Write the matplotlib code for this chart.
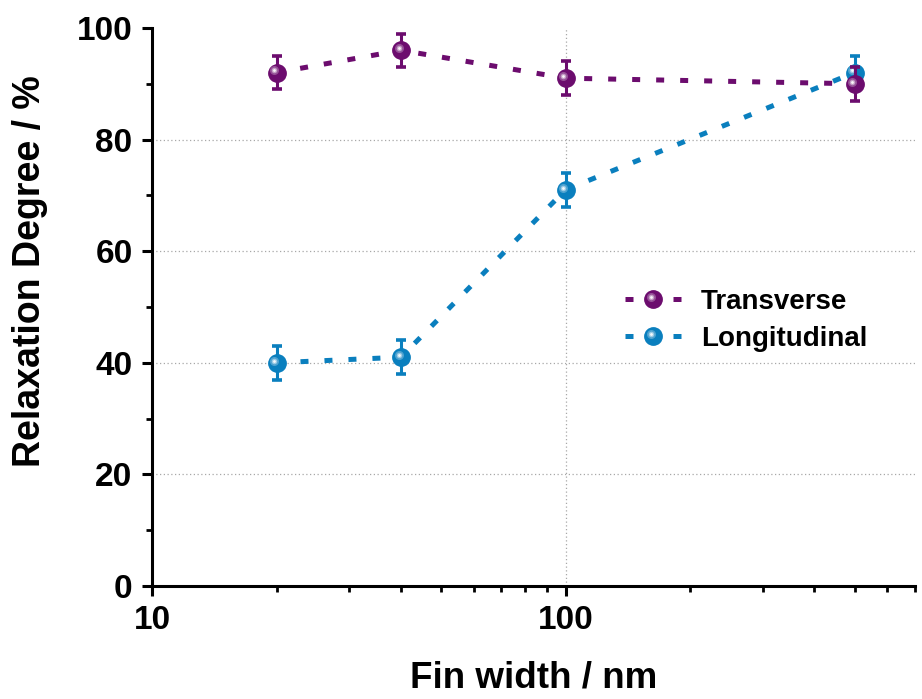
import matplotlib
matplotlib.use("Agg")
import matplotlib.pyplot as plt
from matplotlib.ticker import FixedLocator, NullFormatter, MultipleLocator
from matplotlib.lines import Line2D
from matplotlib.legend_handler import HandlerLine2D
import matplotlib.transforms as mtransforms

plt.rcParams['font.family'] = ['Liberation Sans', 'DejaVu Sans']
plt.rcParams['font.weight'] = 'bold'

# Data
fin_width = [20, 40, 100, 500]
transverse = [92, 96, 91, 90]
transverse_err = [3, 3, 3, 3]
longitudinal = [40, 41, 71, 92]
longitudinal_err = [3, 3, 3, 3]

x_ticks = [10, 100]
x_tick_labels = ["10", "100"]
y_ticks = [0, 20, 40, 60, 80, 100]

purple = '#6C0C6E'
blue = '#0A7FBE'

fig = plt.figure(figsize=(9.22, 6.99), dpi=100)
ax = fig.add_axes([0.1649, 0.1617, 0.8275, 0.7983])

LW = 3.6
DASH = (1.6, 3.2)
MS = 12.5


def sphere(ax, x, y, color, z):
    """Shaded ball marker: base disc plus a soft offset highlight."""
    ax.plot(x, y, 'o', ms=MS, color=color, mec=color, zorder=z, linestyle='none')
    off = mtransforms.offset_copy(ax.transData, fig=fig, x=-2.2, y=2.2, units='dots')
    ax.plot(x, y, 'o', ms=6.5, color='white', alpha=0.28, mew=0, transform=off,
            zorder=z + 0.1, linestyle='none')
    ax.plot(x, y, 'o', ms=4.0, color='white', alpha=0.45, mew=0, transform=off,
            zorder=z + 0.2, linestyle='none')
    ax.plot(x, y, 'o', ms=2.0, color='white', alpha=0.9, mew=0, transform=off,
            zorder=z + 0.3, linestyle='none')


def series(ax, x, y, err, color, z):
    ax.plot(x, y, color=color, lw=LW, dashes=DASH, dash_capstyle='butt', zorder=z)
    ax.errorbar(x, y, yerr=err, fmt='none', ecolor=color, elinewidth=2.2,
                capsize=3.8, capthick=2.6, zorder=z + 0.5)
    sphere(ax, x, y, color, z + 1)


series(ax, fin_width, longitudinal, longitudinal_err, blue, 3)
series(ax, fin_width, transverse, transverse_err, purple, 6)

ax.set_xscale('log')
ax.set_xlim(10, 700)
ax.set_ylim(0, 100)

ax.xaxis.set_major_locator(FixedLocator(x_ticks))
ax.set_xticklabels(x_tick_labels)
ax.xaxis.set_minor_locator(FixedLocator([20, 30, 40, 50, 60, 70, 80, 90,
                                         200, 300, 400, 500, 600, 700]))
ax.xaxis.set_minor_formatter(NullFormatter())
ax.yaxis.set_major_locator(FixedLocator(y_ticks))
ax.yaxis.set_minor_locator(MultipleLocator(10))

for s in ['top', 'right']:
    ax.spines[s].set_visible(False)
for s in ['left', 'bottom']:
    ax.spines[s].set_linewidth(2.2)

ax.tick_params(axis='both', which='major', direction='out', length=7, width=2.2,
               labelsize=24, pad=7)
ax.tick_params(axis='both', which='minor', direction='out', length=4, width=2.0)

ax.grid(True, which='major', color='#a8a8a8', linestyle=(0, (1, 2)), linewidth=0.9)
for gl, v in zip(ax.yaxis.get_gridlines(), y_ticks):
    if v in (0, 100):
        gl.set_visible(False)
for gl, v in zip(ax.xaxis.get_gridlines(), x_ticks):
    if v == 10:
        gl.set_visible(False)
ax.set_axisbelow(True)

ax.set_xlabel('Fin width / nm', fontsize=26.5, fontweight='bold', labelpad=17)
ax.set_ylabel('Relaxation Degree / %', fontsize=27, fontweight='bold')
ax.yaxis.set_label_coords(-0.136, 0.565)


class BallHandler(HandlerLine2D):
    def create_artists(self, legend, orig_handle, xdescent, ydescent, width,
                       height, fontsize, trans):
        color = orig_handle.get_color()
        yc = height / 2 - ydescent
        line = Line2D([-xdescent, width - xdescent], [yc, yc], color=color,
                      lw=LW, dashes=DASH, dash_capstyle='butt')
        xc = (width - xdescent) / 2 - xdescent / 2
        arts = [line]
        base = Line2D([xc], [yc], marker='o', ms=MS, color=color, mec=color,
                      linestyle='none')
        arts.append(base)
        off = mtransforms.offset_copy(trans, fig=legend.figure, x=-2.2, y=2.2,
                                      units='dots')
        for ms, a in [(6.5, 0.28), (4.0, 0.45), (2.0, 0.9)]:
            h = Line2D([xc], [yc], marker='o', ms=ms, color='white', alpha=a,
                       mew=0, linestyle='none')
            h.set_transform(off)
            arts.append(h)
        for art in arts[:2]:
            art.set_transform(trans)
        return arts


h_t = Line2D([], [], color=purple)
h_l = Line2D([], [], color=blue)
leg = ax.legend([h_t, h_l], ['Transverse', 'Longitudinal'],
                handler_map={Line2D: BallHandler()},
                loc='upper left', bbox_to_anchor=(0.605, 0.552),
                frameon=False, fontsize=20, handlelength=2.05,
                handletextpad=0.7, labelspacing=0.38, borderaxespad=0)
for t in leg.get_texts():
    t.set_fontweight('bold')

fig.savefig('out.png', dpi=100)
